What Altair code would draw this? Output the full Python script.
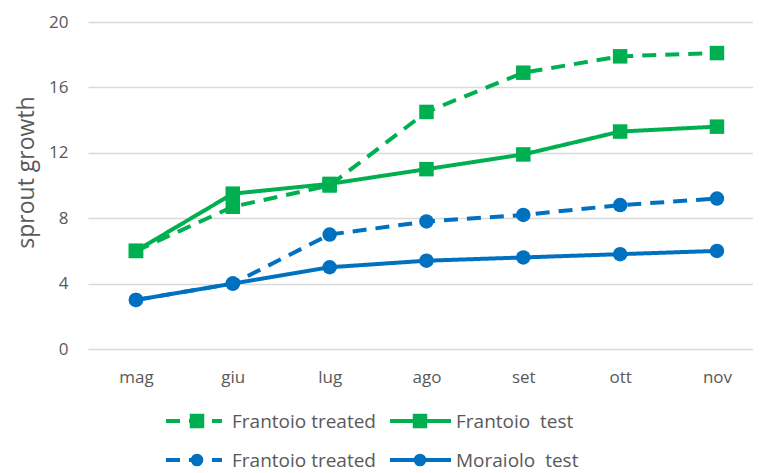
import altair as alt
import pandas as pd

months = ["mag", "giu", "lug", "ago", "set", "ott", "nov"]
frantoio_treated = [6.0, 8.7, 10.0, 14.5, 16.9, 17.9, 18.1]
frantoio_test = [6.0, 9.5, 10.1, 11.0, 11.9, 13.3, 13.6]
frantoio_treated_b = [3.0, 4.0, 7.0, 7.8, 8.2, 8.8, 9.2]
moraiolo_test = [3.0, 4.0, 5.0, 5.4, 5.6, 5.8, 6.0]
series_labels = ["Frantoio treated", "Frantoio\u00a0 test", "Frantoio treated", "Moraiolo\u00a0 test"]
series_keys = ["s1", "s2", "s3", "s4"]

GREEN = "#00B050"
BLUE = "#0070C0"
TEXT = "#595959"
FONT = "Open Sans"

styles = {
    "s1": dict(color=GREEN, dash=[14, 9], shape="square", size=210),
    "s2": dict(color=GREEN, dash=[1, 0], shape="square", size=210),
    "s3": dict(color=BLUE, dash=[14, 9], shape="circle", size=160),
    "s4": dict(color=BLUE, dash=[1, 0], shape="circle", size=160),
}
values = {"s1": frantoio_treated, "s2": frantoio_test, "s3": frantoio_treated_b, "s4": moraiolo_test}

rows = []
draw_order = ["s3", "s4", "s1", "s2"]
for o, key in enumerate(draw_order):
    for m, v in zip(months, values[key]):
        rows.append({"series": key, "month": m, "value": v, "ord": o})
data = pd.DataFrame(rows)

W, H = 665, 327
xscale = alt.Scale(type="point", domain=months, padding=0.4337, align=0.571)
yscale = alt.Scale(domain=[0, 20])
cscale = alt.Scale(domain=series_keys, range=[styles[k]["color"] for k in series_keys])
dscale = alt.Scale(domain=series_keys, range=[styles[k]["dash"] for k in series_keys])
sscale = alt.Scale(domain=series_keys, range=[styles[k]["shape"] for k in series_keys])
zscale = alt.Scale(domain=series_keys, range=[styles[k]["size"] for k in series_keys])

x = alt.X("month:N", scale=xscale, sort=months, title=None,
          axis=alt.Axis(domain=False, ticks=False, labelPadding=20, labelFontSize=17,
                        labelColor=TEXT, labelFont=FONT, labelAngle=0, grid=False))
y = alt.Y("value:Q", scale=yscale, title="sprout growth",
          axis=alt.Axis(values=[0, 4, 8, 12, 16, 20], domain=False, ticks=False, labelPadding=20,
                        labelFontSize=17, labelColor=TEXT, labelFont=FONT, gridColor="#D9D9D9",
                        gridWidth=1.3, titleFontSize=23, titleFont=FONT, titleColor=TEXT,
                        titleFontWeight="normal", titleX=-55, titleY=150, titleAngle=-90,
                        titleBaseline="alphabetic"))

lines = alt.Chart(data).mark_line(strokeWidth=4).encode(
    x=x, y=y,
    color=alt.Color("series:N", scale=cscale, legend=None),
    strokeDash=alt.StrokeDash("series:N", scale=dscale, legend=None),
    detail="series:N",
    order=alt.Order("ord:Q"),
)
points = alt.Chart(data).mark_point(filled=True, opacity=1).encode(
    x=x, y=y,
    color=alt.Color("series:N", scale=cscale, legend=None),
    shape=alt.Shape("series:N", scale=sscale, legend=None),
    size=alt.Size("series:N", scale=zscale, legend=None),
)

layers = [lines, points]

# manual legend (two rows, two columns) below the plot
legend_rows = [399, 438]
legend_cols = [(78, 134, 109, 144), (302, 363, 332, 368)]
for idx, key in enumerate(series_keys):
    st = styles[key]
    r, c = divmod(idx, 2)
    x1, x2, xm, xt = legend_cols[c]
    yy = legend_rows[r]
    one = pd.DataFrame({"label": [series_labels[idx]]})
    layers.append(alt.Chart(one).mark_rule(color=st["color"], strokeWidth=4, strokeDash=st["dash"]).encode(
        x=alt.value(x1), x2=alt.value(x2), y=alt.value(yy)))
    layers.append(alt.Chart(one).mark_point(shape=st["shape"], size=st["size"], filled=True, opacity=1,
                                            color=st["color"]).encode(x=alt.value(xm), y=alt.value(yy)))
    layers.append(alt.Chart(one).mark_text(align="left", baseline="alphabetic", fontSize=19, font=FONT,
                                           color=TEXT).encode(x=alt.value(xt), y=alt.value(yy + 7), text="label:N"))

chart = alt.layer(*layers).properties(
    width=W, height=H,
    padding={"left": 80, "top": 14, "right": 0, "bottom": 124},
    autosize=alt.AutoSizeParams(type="none"),
).configure_view(stroke=None)

chart.save("out.html", embed_options={"renderer": "svg", "actions": False})
